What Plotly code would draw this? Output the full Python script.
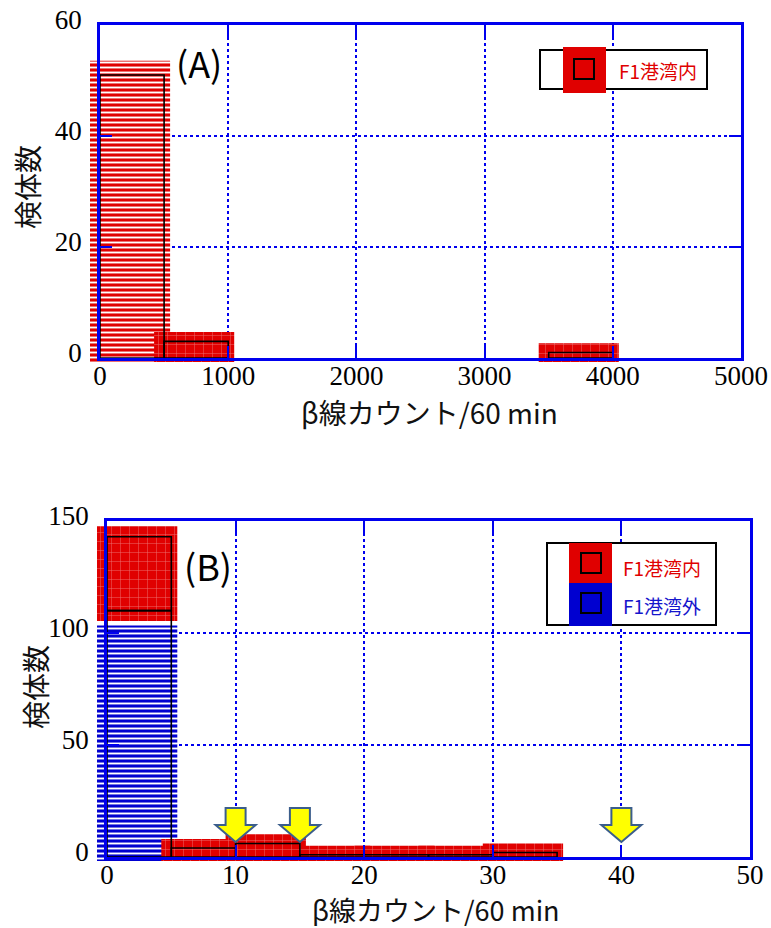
import plotly.graph_objects as go

# ---------------- data ----------------
series_names = ["F1港湾内", "F1港湾外"]

# panel (A): histogram of beta counts (bin width 500)
a_bin_start = [0, 500, 3500]
a_bin_width = 500
a_in = [51, 3, 1]

# panel (B): stacked histogram (bin width 5)
b_bin_start = [0, 5, 10, 15, 20, 25, 30]
b_bin_width = 5
b_out = [110, 0, 0, 0, 0, 0, 0]
b_in = [33, 4, 6, 1, 1, 1, 2]

b_arrow_x = [10, 15, 40]

a_xticks = [0, 1000, 2000, 3000, 4000, 5000]
a_yticks = [0, 20, 40, 60]
b_xticks = [0, 10, 20, 30, 40, 50]
b_yticks = [0, 50, 100, 150]

x_title = "β線カウント/60 min"
y_title = "検体数"
panel_labels = ["(A)", "(B)"]

# ---------------- styling / layout ----------------
W, H = 771, 928
RED = "#e00000"
BLUE_BAR = "#0000d0"
AXBLUE = "#0000ee"
SANS = "Noto Sans CJK JP"
SERIF = "Liberation Serif, 'Times New Roman', Times, serif"

A_box = (100, 741, 25, 358)   # x0, x1, ytop, ybottom (px)
B_box = (107, 750, 521, 857)
A_rx, A_ry = [0, 5000], [0, 60]
B_rx, B_ry = [0, 50], [0, 150]
EXT = 20  # px margin of the hidden (unclipped) highlight layer


def exts(b):
    # left, right, top, bottom extension in px, kept inside the page
    return (min(EXT, b[0]), min(EXT, W - b[1]), min(EXT, b[2]), min(EXT, H - b[3]))


def dom_x(b, e=(0, 0, 0, 0)):
    return [(b[0] - e[0]) / W, (b[1] + e[1]) / W]


def dom_y(b, e=(0, 0, 0, 0)):
    return [1 - (b[3] + e[3]) / H, 1 - (b[2] - e[2]) / H]


def scale(b, rx, ry):
    return (b[1] - b[0]) / (rx[1] - rx[0]), (b[3] - b[2]) / (ry[1] - ry[0])


def P(x, y):
    return x / W, 1 - y / H


fig = go.Figure()


def highlight(axes_list, start, width, base, height, color, sx, sy,
              padl=10, padr=6, padbot=4, top_cap=None):
    if height <= 0:
        return
    px_h = height * sy
    padtop = 9 + 0.018 * px_h
    lo = base - ((padtop if base > 0 else padbot) / sy)
    hi = base + height + padtop / sy
    if top_cap is not None:
        hi = min(hi, top_cap)
    if px_h > 150:
        pattern = dict(shape="-", size=5, solidity=0.38, fgcolor="white",
                       fgopacity=1, fillmode="overlay")
    else:
        pattern = dict(shape="+", size=9, solidity=0.1, fgcolor="white",
                       fgopacity=0.45, fillmode="overlay")
    xc = start + width / 2 + (padr - padl) / 2 / sx
    for xa, ya in axes_list:
        fig.add_trace(go.Bar(
            x=[xc], y=[hi - lo], base=[lo],
            width=[width + (padl + padr) / sx], xaxis=xa, yaxis=ya,
            marker=dict(color=color, line=dict(width=0), pattern=pattern),
            showlegend=False, hoverinfo="skip"))


def outline(xa, ya, starts, width, bases, heights, name):
    xs, ys, bs = [], [], []
    for s, b, h in zip(starts, bases, heights):
        if h > 0:
            xs.append(s + width / 2)
            ys.append(h)
            bs.append(b)
    fig.add_trace(go.Bar(
        x=xs, y=ys, base=bs, width=[width] * len(xs), xaxis=xa, yaxis=ya,
        marker=dict(color="rgba(0,0,0,0)", line=dict(color="black", width=1.6)),
        cliponaxis=False, showlegend=False, name=name))


# ---- panel A  (x/y = hidden overhang layer, x2/y2 = visible axes) ----
sxA, syA = scale(A_box, A_rx, A_ry)
for s, v in zip(a_bin_start, a_in):
    highlight([("x", "y"), ("x2", "y2")], s, a_bin_width, 0, v, RED, sxA, syA)
outline("x2", "y2", a_bin_start, a_bin_width, [0] * len(a_in), a_in, series_names[0])

# ---- panel B  (x3/y3 = hidden overhang layer, x4/y4 = visible axes) ----
sxB, syB = scale(B_box, B_rx, B_ry)
gap = 4
for s, o, i in zip(b_bin_start, b_out, b_in):
    cap = None
    if i > 0 and o > 0:
        cap = o - (11 + gap) / syB
    highlight([("x3", "y3"), ("x4", "y4")], s, b_bin_width, 0, o, BLUE_BAR,
              sxB, syB, top_cap=cap)
for s, o, i in zip(b_bin_start, b_out, b_in):
    highlight([("x3", "y3"), ("x4", "y4")], s, b_bin_width, o, i, RED, sxB, syB)
outline("x4", "y4", b_bin_start, b_bin_width, [0] * len(b_out), b_out, series_names[1])
outline("x4", "y4", b_bin_start, b_bin_width, b_out, b_in, series_names[0])

# arrows (block arrows pointing down to the baseline), relative pixel path
arrow_path = "M 0 15 L -20 32 L -10 32 L -10 49 L 10 49 L 10 32 L 20 32 Z"
for ax in b_arrow_x:
    fig.add_shape(type="path", xref="x4", yref="y4", xsizemode="pixel",
                  ysizemode="pixel", xanchor=ax, yanchor=0, path=arrow_path,
                  fillcolor="#ffff00", line=dict(color="#3b5e8c", width=2),
                  layer="above")

# ---- axes ----
common = dict(showline=True, linecolor=AXBLUE, linewidth=2.5, mirror="ticks",
              ticks="inside", ticklen=12, tickwidth=2, tickcolor=AXBLUE,
              showgrid=True, gridcolor=AXBLUE, griddash="dot", gridwidth=1.5,
              zeroline=False, fixedrange=True,
              tickfont=dict(family=SERIF, size=27, color="black"))
hidden = dict(visible=False, showgrid=False, zeroline=False, fixedrange=True)

eA, eB = exts(A_box), exts(B_box)


def ext_rx(r, s, e):
    return [r[0] - e[0] / s, r[1] + e[1] / s]


def ext_ry(r, s, e):
    return [r[0] - e[3] / s, r[1] + e[2] / s]


fig.update_layout(
    xaxis=dict(hidden, domain=dom_x(A_box, eA), range=ext_rx(A_rx, sxA, eA), anchor="y"),
    yaxis=dict(hidden, domain=dom_y(A_box, eA), range=ext_ry(A_ry, syA, eA), anchor="x"),
    xaxis2=dict(common, domain=dom_x(A_box), range=A_rx, tickvals=a_xticks,
                anchor="y2", ticklabelstandoff=-8),
    yaxis2=dict(common, domain=dom_y(A_box), range=A_ry, tickvals=a_yticks,
                anchor="x2", ticklabelstandoff=10, ticklabelshift=-5),
    xaxis3=dict(hidden, domain=dom_x(B_box, eB), range=ext_rx(B_rx, sxB, eB), anchor="y3"),
    yaxis3=dict(hidden, domain=dom_y(B_box, eB), range=ext_ry(B_ry, syB, eB), anchor="x3"),
    xaxis4=dict(common, domain=dom_x(B_box), range=B_rx, tickvals=b_xticks,
                anchor="y4", ticklabelstandoff=-8),
    yaxis4=dict(common, domain=dom_y(B_box), range=B_ry, tickvals=b_yticks,
                anchor="x4", ticklabelstandoff=10, ticklabelshift=-5),
    barmode="overlay",
    width=W, height=H,
    margin=dict(l=0, r=0, t=0, b=0, autoexpand=False),
    paper_bgcolor="white", plot_bgcolor="white",
    showlegend=False,
)

# ---- manual legends ----
def rect(x0, y0, x1, y1, fill, line_color=None, lw=0):
    a0 = P(x0, y0)
    a1 = P(x1, y1)
    fig.add_shape(type="rect", xref="paper", yref="paper",
                  x0=a0[0], y0=a1[1], x1=a1[0], y1=a0[1],
                  fillcolor=fill, line=dict(color=line_color or fill, width=lw),
                  layer="above")


def text(x, y, s, size, color, xanchor="center", angle=0, family=SANS):
    px, py = P(x, y)
    fig.add_annotation(x=px, y=py, xref="paper", yref="paper", text=s,
                       showarrow=False, xanchor=xanchor, yanchor="middle",
                       textangle=angle, font=dict(family=family, size=size, color=color))


# legend A
rect(540, 50, 707, 89, "white", "black", 2)
rect(563, 47, 606, 93, RED)
rect(574, 59, 594, 79, "rgba(0,0,0,0)", "black", 2)
text(617, 70, series_names[0], 19, RED, xanchor="left")

# legend B
rect(547, 543, 716, 625, "white", "black", 2)
rect(569, 543, 612, 583, RED)
rect(569, 583, 612, 626, BLUE_BAR)
rect(581, 553, 601, 573, "rgba(0,0,0,0)", "black", 2)
rect(581, 593, 601, 613, "rgba(0,0,0,0)", "black", 2)
text(621, 567, series_names[0], 19, RED, xanchor="left")
text(621, 605, series_names[1], 19, "#1515cc", xanchor="left")

# panel labels & axis titles
text(199, 62, panel_labels[0], 36, "black")
text(208, 565, panel_labels[1], 36, "black")
text(429, 412, x_title, 28, "#111111")
text(436, 909, x_title, 27, "#111111")
text(27, 187, y_title, 28, "#111111", angle=-90)
text(35, 687, y_title, 28, "#111111", angle=-90)

fig.write_html("out.html")
